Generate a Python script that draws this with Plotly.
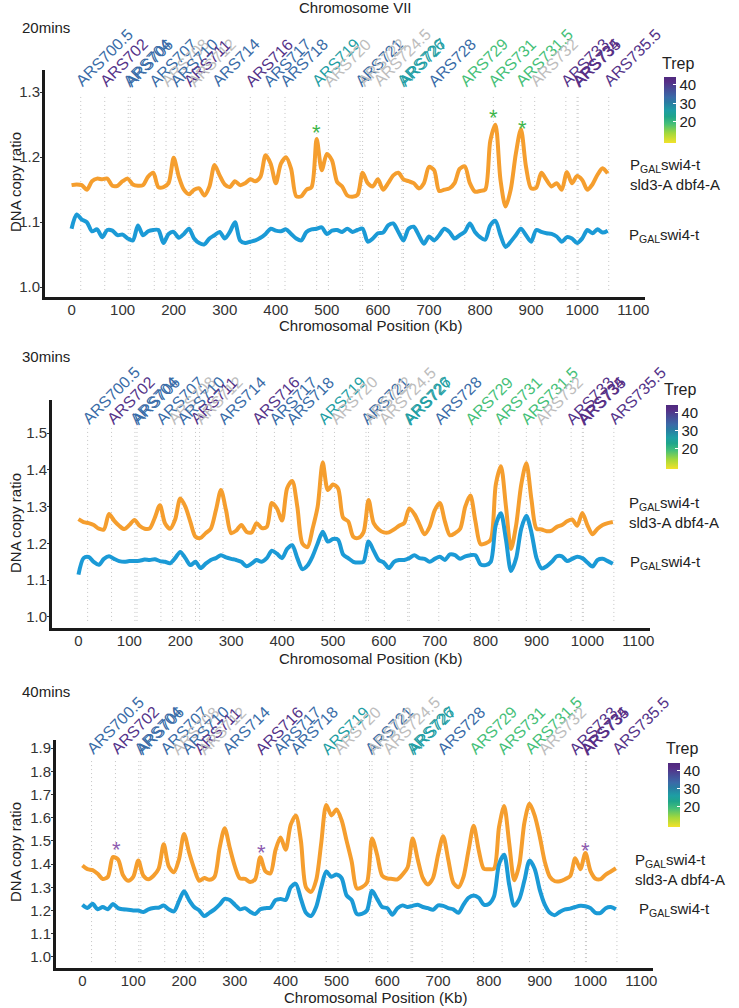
import plotly.graph_objects as go
from plotly.colors import sample_colorscale

# ---------------- data ----------------
positions = list(range(0, 1060, 10))  # kb, bin centres

orange_20 = [1.157, 1.158, 1.157, 1.150, 1.163, 1.167, 1.166, 1.167, 1.156, 1.156,
             1.163, 1.167, 1.158, 1.156, 1.157, 1.170, 1.176, 1.154, 1.154, 1.160,
             1.199, 1.170, 1.150, 1.143, 1.150, 1.152, 1.141, 1.155, 1.188, 1.172,
             1.158, 1.154, 1.163, 1.157, 1.160, 1.166, 1.163, 1.170, 1.203, 1.190,
             1.160, 1.190, 1.200, 1.182, 1.140, 1.140, 1.150, 1.154, 1.228, 1.180,
             1.205, 1.195, 1.162, 1.155, 1.141, 1.139, 1.142, 1.176, 1.160, 1.155,
             1.166, 1.150, 1.160, 1.172, 1.176, 1.166, 1.163, 1.160, 1.152, 1.160,
             1.185, 1.180, 1.148, 1.150, 1.152, 1.160, 1.182, 1.186, 1.160, 1.147,
             1.148, 1.150, 1.225, 1.250, 1.165, 1.124, 1.150, 1.205, 1.243, 1.185,
             1.152, 1.153, 1.176, 1.165, 1.155, 1.160, 1.150, 1.177, 1.160, 1.171,
             1.165, 1.150, 1.158, 1.173, 1.183, 1.175]
blue_20 = [1.090, 1.112, 1.104, 1.100, 1.086, 1.089, 1.077, 1.088, 1.087, 1.080,
           1.081, 1.075, 1.072, 1.095, 1.080, 1.086, 1.088, 1.088, 1.068, 1.082,
           1.085, 1.076, 1.082, 1.090, 1.075, 1.068, 1.066, 1.075, 1.080, 1.085,
           1.075, 1.085, 1.100, 1.072, 1.068, 1.070, 1.072, 1.076, 1.082, 1.090,
           1.087, 1.086, 1.089, 1.082, 1.075, 1.072, 1.085, 1.089, 1.090, 1.092,
           1.082, 1.087, 1.088, 1.085, 1.090, 1.085, 1.088, 1.090, 1.070, 1.075,
           1.083, 1.084, 1.095, 1.098, 1.085, 1.072, 1.090, 1.093, 1.080, 1.067,
           1.078, 1.072, 1.080, 1.090, 1.085, 1.075, 1.080, 1.085, 1.098, 1.085,
           1.077, 1.073, 1.095, 1.102, 1.080, 1.062, 1.070, 1.080, 1.090, 1.080,
           1.070, 1.088, 1.085, 1.083, 1.082, 1.078, 1.070, 1.077, 1.075, 1.068,
           1.075, 1.088, 1.083, 1.089, 1.084, 1.087]

orange_30 = [1.266, 1.258, 1.255, 1.250, 1.240, 1.238, 1.280, 1.262, 1.248, 1.239,
             1.250, 1.264, 1.248, 1.240, 1.241, 1.270, 1.304, 1.255, 1.240, 1.265,
             1.322, 1.300, 1.258, 1.218, 1.215, 1.228, 1.240, 1.290, 1.345, 1.290,
             1.228, 1.235, 1.250, 1.232, 1.230, 1.255, 1.242, 1.245, 1.310, 1.295,
             1.262, 1.350, 1.370, 1.300, 1.200, 1.190, 1.240, 1.300, 1.420, 1.345,
             1.360, 1.350, 1.270, 1.260, 1.218, 1.215, 1.230, 1.318, 1.255, 1.238,
             1.230, 1.230, 1.238, 1.248, 1.255, 1.295, 1.280, 1.252, 1.225, 1.245,
             1.290, 1.310, 1.260, 1.222, 1.228, 1.240, 1.300, 1.330, 1.260, 1.198,
             1.200, 1.210, 1.360, 1.410, 1.300, 1.185, 1.250, 1.360, 1.418, 1.320,
             1.240, 1.238, 1.233, 1.235, 1.245, 1.250, 1.260, 1.265, 1.248, 1.283,
             1.250, 1.225, 1.240, 1.250, 1.255, 1.258]
blue_30 = [1.115, 1.160, 1.163, 1.150, 1.142, 1.158, 1.165, 1.158, 1.152, 1.150,
           1.152, 1.152, 1.153, 1.156, 1.155, 1.157, 1.152, 1.150, 1.146, 1.160,
           1.177, 1.160, 1.141, 1.150, 1.133, 1.145, 1.155, 1.160, 1.168, 1.162,
           1.158, 1.155, 1.150, 1.138, 1.145, 1.155, 1.150, 1.160, 1.180, 1.172,
           1.160, 1.185, 1.195, 1.160, 1.130, 1.140, 1.165, 1.200, 1.232, 1.205,
           1.212, 1.210, 1.170, 1.160, 1.150, 1.148, 1.150, 1.205, 1.180, 1.155,
           1.148, 1.133, 1.150, 1.155, 1.155, 1.160, 1.168, 1.160, 1.158, 1.150,
           1.158, 1.164, 1.155, 1.170, 1.168, 1.158, 1.165, 1.168, 1.168, 1.143,
           1.141, 1.150, 1.250, 1.282, 1.210, 1.125, 1.160, 1.240, 1.275, 1.230,
           1.160, 1.132, 1.138, 1.150, 1.165, 1.165, 1.152, 1.158, 1.164, 1.160,
           1.148, 1.137, 1.155, 1.158, 1.152, 1.145]

orange_40 = [1.394, 1.378, 1.374, 1.358, 1.336, 1.345, 1.430, 1.420, 1.352, 1.328,
             1.345, 1.415, 1.350, 1.335, 1.350, 1.380, 1.485, 1.390, 1.365, 1.420,
             1.530, 1.450, 1.380, 1.328, 1.340, 1.332, 1.345, 1.470, 1.555, 1.470,
             1.390, 1.338, 1.336, 1.323, 1.335, 1.430, 1.370, 1.360, 1.460, 1.515,
             1.462, 1.570, 1.610, 1.500, 1.300, 1.280, 1.330, 1.490, 1.655, 1.610,
             1.635, 1.590, 1.500, 1.410, 1.295, 1.300, 1.320, 1.510, 1.440, 1.350,
             1.338, 1.336, 1.334, 1.355, 1.385, 1.510, 1.420, 1.340, 1.312, 1.340,
             1.440, 1.520, 1.420, 1.320, 1.300, 1.345, 1.460, 1.565, 1.460, 1.380,
             1.378, 1.380, 1.560, 1.650, 1.490, 1.330, 1.400, 1.580, 1.660, 1.610,
             1.520, 1.410, 1.345, 1.326, 1.326, 1.335, 1.348, 1.425, 1.378, 1.448,
             1.370, 1.337, 1.335, 1.355, 1.368, 1.382]
blue_40 = [1.225, 1.211, 1.229, 1.205, 1.215, 1.205, 1.228, 1.210, 1.205, 1.203,
           1.200, 1.200, 1.193, 1.205, 1.211, 1.212, 1.221, 1.205, 1.196, 1.240,
           1.283, 1.245, 1.215, 1.200, 1.176, 1.190, 1.205, 1.225, 1.250, 1.245,
           1.225, 1.205, 1.210, 1.195, 1.185, 1.205, 1.210, 1.212, 1.245, 1.250,
           1.245, 1.300, 1.315, 1.250, 1.190, 1.176, 1.215, 1.300, 1.368, 1.345,
           1.355, 1.340, 1.265, 1.245, 1.185, 1.185, 1.200, 1.285, 1.250, 1.215,
           1.210, 1.182, 1.210, 1.222, 1.215, 1.220, 1.225, 1.215, 1.210, 1.203,
           1.222, 1.220, 1.210, 1.205, 1.190, 1.225, 1.255, 1.265, 1.255, 1.225,
           1.228, 1.260, 1.400, 1.440, 1.310, 1.220, 1.250, 1.330, 1.415, 1.380,
           1.290, 1.225, 1.190, 1.180, 1.195, 1.205, 1.208, 1.215, 1.220, 1.218,
           1.210, 1.190, 1.190, 1.210, 1.215, 1.205]

ars_names = ["ARS700.5", "ARS702", "ARS704", "ARS706", "ARS707", "ARS708", "ARS710",
             "ARS711", "ARS712", "ARS714", "ARS716", "ARS717", "ARS718", "ARS719",
             "ARS720", "ARS721", "ARS722", "ARS724.5", "ARS726", "ARS727", "ARS728",
             "ARS729", "ARS731", "ARS731.5", "ARS732", "ARS733", "ARS734", "ARS735",
             "ARS735.5"]
ars_kb = [18, 65, 111, 115, 162, 185, 203, 230, 238, 284, 350, 385, 418, 480, 503,
          565, 570, 601, 647, 650, 708, 770, 826, 880, 907, 968, 990, 992, 1052]
ars_trep = [33, 41, 33, 33, 33, None, 33, 41, None, 33, 41, 33, 33, 26, None,
            33, None, None, 26, 26, 33, 19, 19, 19, None, 41, 42, 42, 41]

star_kb_20 = [480, 827, 883]
star_val_20 = [1.245, 1.268, 1.252]
star_kb_40 = [67, 352, 991]
star_val_40 = [1.485, 1.470, 1.480]

x_ticks = [0, 100, 200, 300, 400, 500, 600, 700, 800, 900, 1000, 1100]
y_ticks_20 = [1.0, 1.1, 1.2, 1.3]
y_ticks_30 = [1.0, 1.1, 1.2, 1.3, 1.4, 1.5]
y_ticks_40 = [1.0, 1.1, 1.2, 1.3, 1.4, 1.5, 1.6, 1.7, 1.8, 1.9]

# ---------------- styling ----------------
W, H = 739, 1008
FONT = "Liberation Sans, Arial, Helvetica, sans-serif"
TXT = "#222222"
ORANGE = "#F59E2E"
BLUE = "#1B9AD6"
GREY_LAB = "#BDBDBD"
TREP_MIN, TREP_MAX = 8.6, 44.3

# viridis-like scale, early (yellow) -> late (purple)
TREP_SCALE = [
    [0.00, "#F2E22A"], [0.15, "#A2D83C"], [0.29, "#45BF78"], [0.40, "#1FA58A"],
    [0.49, "#1E9EA4"], [0.62, "#2A7AA2"], [0.69, "#3A6BA8"], [0.85, "#4B4392"],
    [0.93, "#572D86"], [1.00, "#4E2A7E"],
]


def fx(px):
    return px / W


def fy(py):
    return 1 - py / H


def trep_color(t):
    if t is None:
        return GREY_LAB
    s = (t - TREP_MIN) / (TREP_MAX - TREP_MIN)
    return sample_colorscale(TREP_SCALE, [s])[0]


# pixel boxes (left, top, right, bottom) of the three panels
PANELS = [
    dict(name="20mins", orange=orange_20, blue=blue_20, yticks=y_ticks_20,
         box=(45, 70, 645, 297), yrange=[0.985, 1.334], label=(20, 27),
         xtitle=(370, 326), ytitle=(15, 182), lab_y=0.915, dots=(0.031, 0.885),
         olab=(628, 174), blab=(627, 235), cbar=(664, 77, 66), trep=(678, 63),
         stars=(star_kb_20, star_val_20, "#3DB54A")),
    dict(name="30mins", orange=orange_30, blue=blue_30, yticks=y_ticks_30,
         box=(52, 400, 650, 628), yrange=[0.97, 1.59], label=(20, 356),
         xtitle=(370, 658), ytitle=(15, 523), lab_y=0.88, dots=(0.031, 0.877),
         olab=(627, 512), blab=(628, 562), cbar=(666, 405, 64), trep=(680, 390),
         stars=None),
    dict(name="40mins", orange=orange_40, blue=blue_40, yticks=y_ticks_40,
         box=(56, 740, 653, 968), yrange=[0.952, 1.935], label=(20, 691),
         xtitle=(375, 997), ytitle=(15, 852), lab_y=0.925, dots=(0.026, 0.912),
         olab=(633, 869), blab=(637, 909), cbar=(668, 763, 64), trep=(682, 748),
         stars=(star_kb_40, star_val_40, "#8E5BB0")),
]

fig = go.Figure()
annotations = []
shapes = []
layout = {}

known = [(k, t) for k, t in zip(ars_kb, ars_trep) if t is not None]

for i, p in enumerate(PANELS):
    n = "" if i == 0 else str(i + 1)
    xa, ya = "x" + n, "y" + n
    l, t, r, b = p["box"]

    fig.add_trace(go.Scatter(x=positions, y=p["orange"], mode="lines",
                             line=dict(color=ORANGE, width=4, shape="spline", smoothing=0.8),
                             xaxis=xa, yaxis=ya, hoverinfo="skip"))
    fig.add_trace(go.Scatter(x=positions, y=p["blue"], mode="lines",
                             line=dict(color=BLUE, width=4, shape="spline", smoothing=0.8),
                             xaxis=xa, yaxis=ya, hoverinfo="skip"))

    # colour bar for replication time
    cx, cy, clen = p["cbar"]
    fig.add_trace(go.Scatter(
        x=[k for k, _ in known], y=[0] * len(known), mode="markers",
        xaxis=xa, yaxis=ya, hoverinfo="skip",
        marker=dict(size=1, opacity=0, color=[tv for _, tv in known],
                    colorscale=TREP_SCALE, cmin=TREP_MIN, cmax=TREP_MAX, showscale=True,
                    colorbar=dict(x=fx(cx), xanchor="left", y=fy(cy), yanchor="top",
                                  lenmode="pixels", len=clen, thickness=12,
                                  xpad=0, ypad=0, outlinewidth=0,
                                  tickvals=[20, 30, 40], ticks="inside", ticklen=3,
                                  tickcolor="white",
                                  tickfont=dict(size=15, color=TXT, family=FONT))),
    ))

    layout["xaxis" + n] = dict(
        domain=[fx(l), fx(r)], range=[-52, 1123], anchor=ya,
        tickvals=x_ticks, showline=True, linecolor="#1a1a1a", linewidth=3,
        ticks="", showgrid=False, zeroline=False, ticklabelstandoff=-3,
        tickfont=dict(size=15, color="#333", family=FONT), automargin=False)
    layout["yaxis" + n] = dict(
        domain=[fy(b), fy(t)], range=p["yrange"], anchor=xa,
        tickvals=p["yticks"], tickformat=".1f", showline=True, linecolor="#1a1a1a",
        linewidth=3, ticks="outside", ticklen=2, tickcolor="#333", showgrid=False,
        zeroline=False, tickfont=dict(size=15, color="#333", family=FONT),
        ticklabelstandoff=-3, automargin=False)

    # ARS positions: dotted guides + rotated labels
    for name, kb, tr in zip(ars_names, ars_kb, ars_trep):
        shapes.append(dict(type="line", xref=xa, yref=ya + " domain",
                           x0=kb, x1=kb, y0=p["dots"][0], y1=p["dots"][1],
                           line=dict(color="#c4c4c4", width=1, dash="1px,3px"),
                           layer="below"))
        annotations.append(dict(x=kb, y=p["lab_y"], xref=xa, yref=ya + " domain",
                                text=name, textangle=-45, showarrow=False,
                                xanchor="left", yanchor="bottom", xshift=-11, yshift=-3,
                                font=dict(size=16, color=trep_color(tr), family=FONT)))

    if p["stars"]:
        skb, sval, scol = p["stars"]
        for kb, v in zip(skb, sval):
            annotations.append(dict(x=kb, y=v, xref=xa, yref=ya, text="*",
                                    showarrow=False, yshift=-5,
                                    font=dict(size=22, color=scol, family=FONT)))

    annotations += [
        dict(x=fx(p["label"][0]), y=fy(p["label"][1]), text=p["name"],
             xanchor="left", yanchor="middle"),
        dict(x=fx(p["xtitle"][0]), y=fy(p["xtitle"][1]),
             text="Chromosomal Position (Kb)", xanchor="center", yanchor="middle"),
        dict(x=fx(p["ytitle"][0]), y=fy(p["ytitle"][1]), text="DNA copy ratio",
             textangle=-90, xanchor="center", yanchor="middle"),
        dict(x=fx(p["olab"][0]), y=fy(p["olab"][1]),
             text="P<sub>GAL</sub>swi4-t<br>sld3-A dbf4-A", align="left",
             xanchor="left", yanchor="middle"),
        dict(x=fx(p["blab"][0]), y=fy(p["blab"][1]), text="P<sub>GAL</sub>swi4-t",
             xanchor="left", yanchor="middle"),
        dict(x=fx(p["trep"][0]), y=fy(p["trep"][1]), text="Trep",
             xanchor="center", yanchor="middle", font=dict(size=16, color=TXT, family=FONT)),
    ]

annotations.append(dict(x=fx(355), y=fy(8), text="Chromosome VII",
                        xanchor="center", yanchor="middle"))

for a in annotations:
    a.setdefault("xref", "paper")
    a.setdefault("yref", "paper")
    a.setdefault("showarrow", False)
    a.setdefault("font", dict(size=15, color=TXT, family=FONT))

fig.update_layout(
    width=W, height=H,
    margin=dict(l=0, r=0, t=0, b=0),
    paper_bgcolor="white", plot_bgcolor="white",
    showlegend=False,
    font=dict(family=FONT, color=TXT),
    annotations=annotations, shapes=shapes,
    **layout,
)

# drop the browser's default 8px body margin so the figure sits at the page origin
fig.write_html("out.html", config={"displayModeBar": False},
               post_script="document.body.style.margin='0';document.body.style.overflow='hidden';")
